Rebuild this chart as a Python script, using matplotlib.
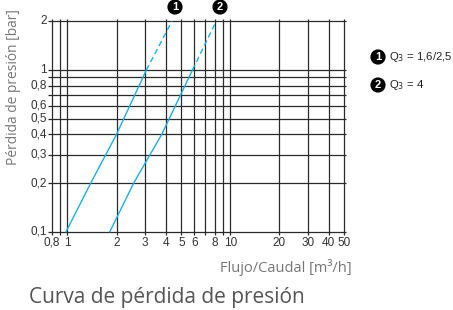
import matplotlib.pyplot as plt

# curve readings (flow m3/h, pressure loss bar)
q1_solid = [0.98, 1.39, 2.0, 3.05]
dp1_solid = [0.1, 0.2, 0.4, 1.0]
q1_dash = [3.05, 4.37]
dp1_dash = [1.0, 2.0]

q2_solid = [1.82, 2.55, 3.79, 5.85]
dp2_solid = [0.1, 0.2, 0.4, 1.0]
q2_dash = [5.85, 8.17]
dp2_dash = [1.0, 2.0]

x_grid = [0.8, 0.9, 1, 2, 3, 4, 5, 6, 7, 8, 9, 10, 20, 30, 40, 50]
x_labels = {0.8: "0,8", 1: "1", 2: "2", 3: "3", 4: "4", 5: "5", 6: "6",
            8: "8", 10: "10", 20: "20", 30: "30", 40: "40", 50: "50"}
y_grid = [0.1, 0.2, 0.3, 0.4, 0.5, 0.6, 0.7, 0.8, 0.9, 1, 2]
y_labels = {0.1: "0,1", 0.2: "0,2", 0.3: "0,3", 0.4: "0,4", 0.5: "0,5",
            0.6: "0,6", 0.8: "0,8", 1: "1", 2: "2"}

legend_labels = ["Q$_3$ = 1,6/2,5", "Q$_3$ = 4"]

BLUE = "#1ab0e8"
GRID = "#2a2a2a"
TICKFONT = "Liberation Sans"

fig = plt.figure(figsize=(4.53, 3.10), dpi=100)
ax = fig.add_axes([0.1141, 0.2526, 0.646, 0.6787])
ax.set_xscale("log")
ax.set_yscale("log")
ax.set_xlim(0.8, 50)
ax.set_ylim(0.1, 2)
for s in ax.spines.values():
    s.set_visible(False)
ax.set_xticks([])
ax.set_yticks([])
ax.minorticks_off()

# grid lines, sticking out a little past the plot box
ax.vlines(x_grid, 0.096, 2.07, color=GRID, lw=0.9, clip_on=False)
ax.hlines(y_grid, 0.755, 51.5, color=GRID, lw=0.9, clip_on=False)

for x, lab in x_labels.items():
    ax.text(x, 0.093, lab, ha="center", va="top", fontsize=8.5,
            family=TICKFONT, color="#333333", clip_on=False)
for y, lab in y_labels.items():
    ax.text(0.745, y, lab, ha="right", va="center", fontsize=8.5,
            family=TICKFONT, color="#333333", clip_on=False)

# loss curves
ax.plot(q1_solid, dp1_solid, color=BLUE, lw=1.0, clip_on=False)
ax.plot(q1_dash, dp1_dash, color=BLUE, lw=1.0, ls=(0, (4, 2.5)), clip_on=False)
ax.plot(q2_solid, dp2_solid, color=BLUE, lw=1.0, clip_on=False)
ax.plot(q2_dash, dp2_dash, color=BLUE, lw=1.0, ls=(0, (4, 2.5)), clip_on=False)


def badge(xf, yf, num):
    fig.text(xf, yf, num, ha="center", va="center", fontsize=8,
             family=TICKFONT, weight="bold", color="white",
             bbox=dict(boxstyle="circle,pad=0.17", fc="black", ec="black"))


# curve markers at the top
badge(175 / 453, 1 - 7 / 310, "1")
badge(220 / 453, 1 - 7 / 310, "2")

# legend
badge(378 / 453, 1 - 57 / 310, "1")
badge(378 / 453, 1 - 85 / 310, "2")
fig.text(389 / 453, 1 - 57 / 310, legend_labels[0], ha="left", va="center",
         fontsize=8.2, family=TICKFONT, color="#222222")
fig.text(389 / 453, 1 - 85 / 310, legend_labels[1], ha="left", va="center",
         fontsize=8.2, family=TICKFONT, color="#222222")

fig.text(352 / 453, 1 - 268 / 310, "Flujo/Caudal [m³/h]", ha="right",
         va="center", fontsize=10.5, family="Open Sans", color="#777777")
fig.text(14 / 453, 1 - 87 / 310, "Pérdida de presión [bar]", ha="center",
         va="center", rotation=90, fontsize=9.9, family="Open Sans",
         color="#777777")
fig.text(29 / 453, 1 - 298 / 310, "Curva de pérdida de presión", ha="left",
         va="center", fontsize=15, family="Open Sans", color="#555555")

fig.savefig("out.png", dpi=100)
